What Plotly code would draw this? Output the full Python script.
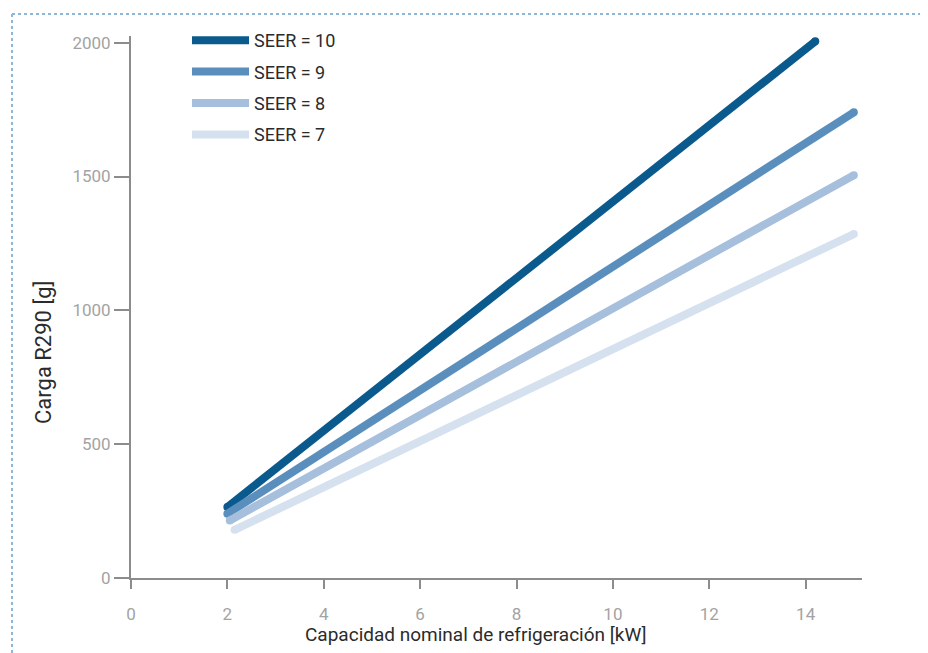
import plotly.graph_objects as go

# Data (straight lines: start and end points)
series_names = ["SEER = 10", "SEER = 9", "SEER = 8", "SEER = 7"]
x_start = [2.0, 2.0, 2.05, 2.15]
x_end = [14.2, 15.0, 15.0, 15.0]
y_start = [265, 240, 215, 180]
y_end = [2005, 1740, 1505, 1285]
colors = ["#0b5a8e", "#5a8fbd", "#a6bfdc", "#d6e1ef"]

x_ticks = [0, 2, 4, 6, 8, 10, 12, 14]
y_ticks = [0, 500, 1000, 1500, 2000]

FONT = "Roboto, sans-serif"

W, H = 928, 653
OFF = 8  # page body margin offset in the browser
# desired screen positions of plot area
PL, PR, PT, PB = 131, 862, 36, 578
ML = PL - OFF
MT = PT - OFF
pw = PR - PL
ph = PB - PT
MR = W - ML - pw
MB = H - MT - ph


def px_x(s):
    return (s - OFF - ML) / pw


def px_y(s):
    return (H - MB - (s - OFF)) / ph


fig = go.Figure()
for name, xs, xe, ys, ye, c in zip(series_names, x_start, x_end, y_start, y_end, colors):
    fig.add_trace(go.Scatter(
        x=[xs, xe], y=[ys, ye], mode="lines", name=name, legendgroup=name,
        line=dict(color=c, width=8, shape="linear"),
        hoverinfo="skip",
    ))
    # round line caps
    fig.add_trace(go.Scatter(
        x=[xs, xe], y=[ys, ye], mode="markers", name=name, legendgroup=name,
        showlegend=False, marker=dict(color=c, size=8, line=dict(width=0)),
        hoverinfo="skip", cliponaxis=False,
    ))

axis_common = dict(
    showgrid=False, zeroline=False, showline=True, linecolor="#8c8c8c", linewidth=2,
    ticks="outside", tickcolor="#8c8c8c", tickwidth=2,
    tickfont=dict(family=FONT, size=17, color="#a3a3a3"),
    automargin=False,
)

fig.update_layout(
    width=W, height=H,
    margin=dict(l=ML, r=MR, t=MT, b=MB, pad=0, autoexpand=False),
    paper_bgcolor="white", plot_bgcolor="white",
    showlegend=True,
    legend=dict(
        x=px_x(187), y=px_y(22), xanchor="left", yanchor="top",
        font=dict(family=FONT, size=18, color="#2b2b2b"),
        traceorder="grouped", tracegroupgap=5, itemwidth=57,
        bgcolor="rgba(0,0,0,0)",
    ),
    xaxis=dict(range=[0, 15.17], tickvals=x_ticks, ticklen=9, ticklabelstandoff=11,
               **axis_common),
    yaxis=dict(range=[0, 2025], tickvals=y_ticks, ticklen=15, ticklabelstandoff=0,
               **axis_common),
)

# Axis titles
fig.add_annotation(
    text="Capacidad nominal de refrigeración [kW]", xref="paper", yref="paper",
    x=px_x(475), y=px_y(634), showarrow=False, xanchor="center", yanchor="middle",
    font=dict(family=FONT, size=19, color="#2b2b2b"),
)
fig.add_annotation(
    text="Carga R290 [g]", xref="paper", yref="paper",
    x=px_x(43), y=px_y(353), showarrow=False, textangle=-90,
    xanchor="center", yanchor="middle",
    font=dict(family=FONT, size=22, color="#2b2b2b"),
)

# Dotted frame (top and left)
dot = dict(color="#8db6d9", width=2, dash="dot")
fig.add_shape(type="line", xref="paper", yref="paper",
              x0=px_x(12), x1=px_x(940), y0=px_y(14), y1=px_y(14), line=dot)
fig.add_shape(type="line", xref="paper", yref="paper",
              x0=px_x(12), x1=px_x(12), y0=px_y(14), y1=px_y(665), line=dot)

fig.write_html("out.html")
